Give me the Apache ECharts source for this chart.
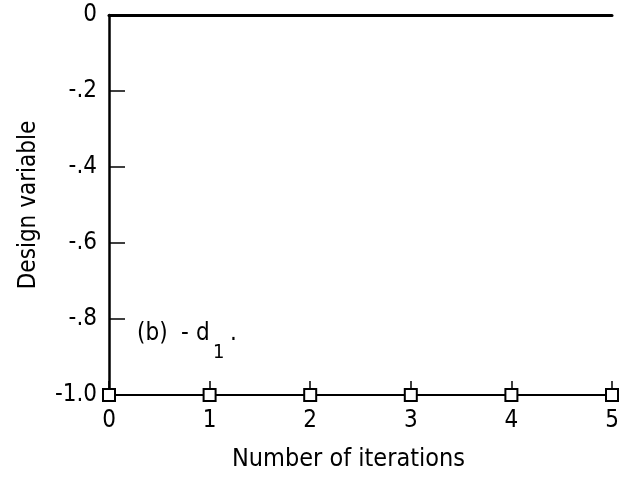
<!DOCTYPE html>
<html>
<head>
<meta charset="utf-8">
<script src="https://cdn.jsdelivr.net/npm/echarts@6/dist/echarts.min.js"></script>
<style>
html,body{margin:0;padding:0;background:#fff;}
#chart{width:635px;height:485px;}
</style>
</head>
<body>
<div id="chart"></div>
<script>
const iterations = [0, 1, 2, 3, 4, 5];
const designVariable = [-1.0, -1.0, -1.0, -1.0, -1.0, -1.0];
const yTickValues = [-1.0, -0.8, -0.6, -0.4, -0.2, 0];
const yTickLabels = ['-1.0', '-.8', '-.6', '-.4', '-.2', '0'];
const xTickLabels = ['0', '1', '2', '3', '4', '5'];
const xAxisTitle = 'Number of iterations';
const yAxisTitle = 'Design variable';

const FONT = '"Liberation Sans Narrow", "DejaVu Sans Condensed", sans-serif';
const chart = echarts.init(document.getElementById('chart'), null, {renderer: 'canvas'});

function yLabel(v) {
  for (let i = 0; i < yTickValues.length; i++) {
    if (Math.abs(yTickValues[i] - v) < 1e-6) return yTickLabels[i];
  }
  return '';
}

const option = {
  backgroundColor: '#fff',
  animation: false,
  grid: {left: 109, right: 23, top: 15, bottom: 90, containLabel: false},
  xAxis: [{
    type: 'value', min: 0, max: 5, interval: 1, position: 'bottom',
    axisLine: {show: true, onZero: false, lineStyle: {color: '#000', width: 2}},
    axisTick: {show: true, inside: true, length: 14, lineStyle: {color: '#000', width: 1.5}},
    axisLabel: {color: '#000', fontFamily: FONT, fontSize: 24, margin: 14,
      formatter: v => xTickLabels[Math.round(v)]},
    splitLine: {show: false},
    name: xAxisTitle, nameLocation: 'middle', nameGap: 52,
    nameTextStyle: {color: '#000', fontFamily: FONT, fontSize: 25, padding: [0, 24, 0, 0]}
  }, {
    type: 'value', min: 0, max: 5, position: 'top',
    axisLine: {show: true, onZero: false, lineStyle: {color: '#000', width: 3}},
    axisTick: {show: false}, axisLabel: {show: false}, splitLine: {show: false}
  }],
  yAxis: {
    type: 'value', min: -1.0, max: 0, interval: 0.2,
    axisLine: {show: true, onZero: false, lineStyle: {color: '#000', width: 2.5}},
    axisTick: {show: true, inside: true, length: 16, lineStyle: {color: '#000', width: 1.5}},
    axisLabel: {color: '#000', fontFamily: FONT, fontSize: 24, margin: 12, formatter: yLabel},
    splitLine: {show: false},
    name: yAxisTitle, nameLocation: 'middle', nameGap: 68, nameRotate: 90,
    nameTextStyle: {color: '#000', fontFamily: FONT, fontSize: 24}
  },
  series: [{
    type: 'line',
    data: iterations.map((x, i) => [x, designVariable[i]]),
    symbol: 'rect', symbolSize: 12, showSymbol: true,
    lineStyle: {color: '#000', width: 2},
    itemStyle: {color: '#fff', borderColor: '#000', borderWidth: 2},
    z: 5
  }],
  graphic: [
    {type: 'text', left: 137, top: 322, style: {text: '(b)', font: '24px ' + FONT, fill: '#000'}},
    {type: 'text', left: 181, top: 322, style: {text: '-', font: '24px ' + FONT, fill: '#000'}},
    {type: 'text', left: 196, top: 322, style: {text: 'd', font: '24px ' + FONT, fill: '#000'}},
    {type: 'text', left: 213, top: 343, style: {text: '1', font: '20px ' + FONT, fill: '#000'}},
    {type: 'text', left: 230, top: 322, style: {text: '.', font: '24px ' + FONT, fill: '#000'}}
  ]
};
chart.setOption(option);
</script>
</body>
</html>
